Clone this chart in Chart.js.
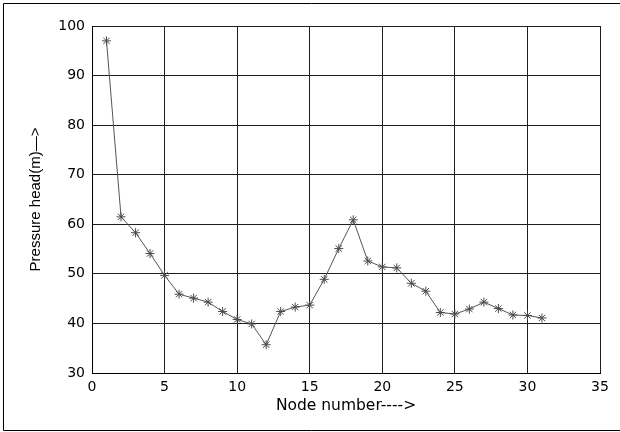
<!DOCTYPE html>
<html>
<head>
<meta charset="utf-8">
<script src="https://cdn.jsdelivr.net/npm/chart.js@4.4.1/dist/chart.umd.min.js"></script>
<style>
  html, body { margin: 0; padding: 0; background: #ffffff; overflow: hidden; }
  #wrap { width: 620px; height: 432px; }
</style>
</head>
<body>
<div id="wrap"><canvas id="c" width="620" height="432"></canvas></div>
<script>
// Node numbers along the pipe network
const nodes = [1, 2, 3, 4, 5, 6, 7, 8, 9, 10, 11, 12, 13, 14, 15, 16,
               17, 18, 19, 20, 21, 22, 23, 24, 25, 26, 27, 28, 29, 30, 31];
// Pressure head at each node (m)
const pressureHead = [97.0, 61.5, 58.3, 54.1, 49.7, 45.9, 45.1, 44.3, 42.4, 40.8,
                      39.9, 35.7, 42.4, 43.3, 43.7, 48.9, 55.1, 60.9, 52.6, 51.4,
                      51.2, 48.1, 46.5, 42.2, 41.9, 42.9, 44.3, 43.0, 41.7, 41.6, 41.1];
// Axis ticks
const xTicks = [0, 5, 10, 15, 20, 25, 30, 35];
const yTicks = [30, 40, 50, 60, 70, 80, 90, 100];

const points = nodes.map((n, i) => ({ x: n, y: pressureHead[i] }));

// Figure frame: left, top and bottom edges (the right edge lies past the canvas)
const figureFrame = {
  id: 'figureFrame',
  afterDraw(chart) {
    const ctx = chart.ctx;
    ctx.save();
    ctx.strokeStyle = '#000000';
    ctx.lineWidth = 1;
    ctx.beginPath();
    ctx.moveTo(620, 3.5);
    ctx.lineTo(3.5, 3.5);
    ctx.lineTo(3.5, 430.5);
    ctx.lineTo(620, 430.5);
    ctx.stroke();
    ctx.restore();
  }
};

const tickFont = { family: '"DejaVu Sans", sans-serif', size: 14 };

new Chart(document.getElementById('c'), {
  type: 'line',
  data: {
    datasets: [{
      data: points,
      borderColor: '#555555',
      borderWidth: 1,
      tension: 0,
      pointStyle: 'star',
      pointRadius: 4.5,
      pointBorderWidth: 1,
      pointBorderColor: '#4a4a4a',
      pointBackgroundColor: '#4a4a4a',
      fill: false
    }]
  },
  options: {
    responsive: false,
    animation: false,
    events: [],
    layout: { padding: { top: 26, right: 20, bottom: 0, left: 0 } },
    plugins: {
      legend: { display: false },
      tooltip: { enabled: false }
    },
    scales: {
      x: {
        type: 'linear',
        min: xTicks[0],
        max: xTicks[xTicks.length - 1],
        afterBuildTicks(scale) { scale.ticks = xTicks.map(v => ({ value: v })); },
        afterFit(scale) { scale.height = 59; },
        grid: { color: '#1e1e1e', lineWidth: 1, drawTicks: false },
        border: { color: '#000000', width: 1 },
        ticks: { color: '#000000', font: tickFont, padding: 6, maxRotation: 0 },
        title: {
          display: true,
          text: 'Node number---->',
          color: '#000000',
          font: { family: '"DejaVu Sans", sans-serif', size: 15.5 },
          padding: { top: 0, bottom: 17 }
        }
      },
      y: {
        type: 'linear',
        min: yTicks[0],
        max: yTicks[yTicks.length - 1],
        afterBuildTicks(scale) { scale.ticks = yTicks.map(v => ({ value: v })); },
        afterFit(scale) { scale.width = 92; },
        grid: { color: '#1e1e1e', lineWidth: 1, drawTicks: false },
        border: { color: '#000000', width: 1 },
        ticks: { color: '#000000', font: tickFont, padding: 7 },
        title: {
          display: true,
          text: 'Pressure head(m)—>',
          color: '#000000',
          font: { family: '"Liberation Sans", Arial, sans-serif', size: 15 },
          padding: { top: 27, bottom: 0 }
        }
      }
    }
  },
  plugins: [figureFrame]
});
</script>
</body>
</html>
